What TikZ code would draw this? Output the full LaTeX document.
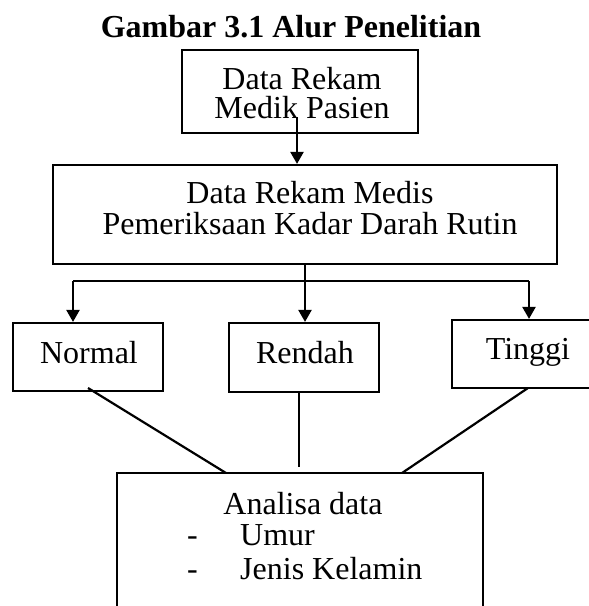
\documentclass[tikz,border=0pt]{standalone}
\usepackage{fontspec}
\setmainfont{Liberation Serif}
\usetikzlibrary{arrows.meta}
\begin{document}
\begin{tikzpicture}[x=1pt,y=-1pt,
  box/.style={draw,line width=2.2pt,inner sep=0pt,rectangle},
  txt/.style={inner sep=0pt,anchor=base,font=\fontsize{32}{34}\selectfont},
  txtl/.style={inner sep=0pt,anchor=base west,font=\fontsize{32}{34}\selectfont},
  conn/.style={line width=2.2pt},
  arr/.style={line width=2.2pt,-{Triangle[width=13pt,length=12pt]}}]
\useasboundingbox (0,0) rectangle (589,606);
\begin{scope}
\clip (0,0) rectangle (589,606);
% title
\node[txt,font=\fontsize{32}{34}\selectfont\bfseries] (title) at (291,37) {Gambar 3.1 Alur Penelitian};
% box 1
\node[box,minimum width=236pt,minimum height=83pt] (b1) at (300,91.5) {};
\node[txt] (b1a) at (302,89) {Data Rekam};
\node[txt] (b1b) at (302,118) {Medik Pasien};
% box 2
\node[box,minimum width=504pt,minimum height=99pt] (b2) at (305,214.5) {};
\node[txt] (b2a) at (310,203) {Data Rekam Medis};
\node[txt] (b2b) at (310,234) {Pemeriksaan Kadar Darah Rutin};
% level 3
\node[box,minimum width=150pt,minimum height=68pt] (nor) at (88,357) {};
\node[txt] (nort) at (89,363) {Normal};
\node[box,minimum width=150pt,minimum height=69pt] (ren) at (304,357.5) {};
\node[txt] (rent) at (305,363) {Rendah};
\node[box,minimum width=156pt,minimum height=68pt] (tin) at (530,354) {};
\node[txt] (tint) at (528,359) {Tinggi};
% bottom box
\node[box,minimum width=366pt,minimum height=160pt] (ana) at (300,553) {};
\node[txt] (anat) at (303,514) {Analisa data};
\node[txtl] (d1) at (187,545) {-};
\node[txtl] (u1) at (240,545) {Umur};
\node[txtl] (d2) at (187,579) {-};
\node[txtl] (u2) at (240,579) {Jenis Kelamin};
% coordinates
\coordinate (s1) at (297,117);
\coordinate (hl) at (73,281);
\coordinate (hm) at (305,281);
\coordinate (hr) at (529,281);
\coordinate (l1a) at (88,388);
\coordinate (l1b) at (226,473);
\coordinate (l2b) at (299,467);
\coordinate (l3a) at (528,388);
\coordinate (l3b) at (402,473);
% connectors
\draw[arr] (s1) -- (s1 |- b2.north);
\draw[conn] (b2.south) -- (hm);
\draw[conn] (hl) -- (hr);
\draw[arr] (hl) -- (hl |- nor.north);
\draw[arr] (hm) -- (hm |- ren.north);
\draw[arr] (hr) -- (hr |- tin.north);
\draw[conn] (l1a) -- (l1b);
\draw[conn] (l2b |- ren.south) -- (l2b);
\draw[conn] (l3a) -- (l3b);
\end{scope}
\end{tikzpicture}
\end{document}
